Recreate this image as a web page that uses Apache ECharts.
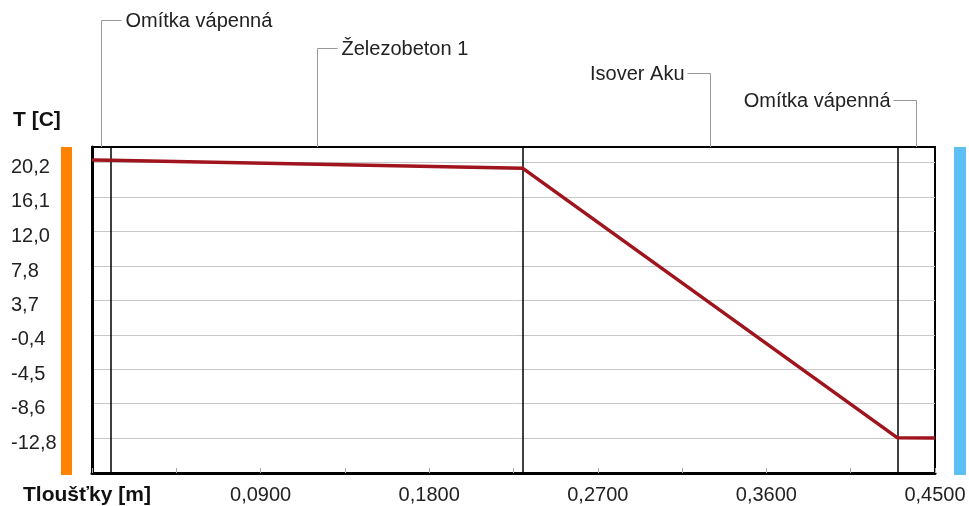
<!DOCTYPE html>
<html><head><meta charset="utf-8">
<script src="https://cdn.jsdelivr.net/npm/echarts@6/dist/echarts.min.js"></script>
<style>html,body{margin:0;padding:0;background:#fff}#c{width:969px;height:506px}</style>
</head><body><div id="c"></div>
<script>
// ---- data ----
const thickness = [0, 0.01, 0.23, 0.43, 0.45];
const temperature = [20.5, 20.46, 19.5, -12.7, -12.72];
const layerNames = ['Omítka vápenná', 'Železobeton 1', 'Isover Aku', 'Omítka vápenná'];
const layerBounds = [0, 0.01, 0.23, 0.43, 0.45];
const yTickValues = [20.2, 16.1, 12.0, 7.8, 3.7, -0.4, -4.5, -8.6, -12.8];
const xTickStep = 0.09;
const yAxisTitle = 'T [C]';
const xAxisTitle = 'Tloušťky [m]';

const FONT = "'Liberation Sans', Arial, sans-serif";
const chart = echarts.init(document.getElementById('c'), null, {renderer: 'canvas'});
const G = {left: 92, right: 34, top: 147, bottom: 33};

chart.setOption({
  animation: false,
  backgroundColor: '#fff',
  grid: {left: G.left, right: G.right, top: G.top, bottom: G.bottom, show: true, borderColor: '#000', borderWidth: 2, backgroundColor: 'transparent'},
  xAxis: {
    type: 'value', min: 0, max: 0.45, interval: xTickStep,
    axisLine: {show: true, onZero: false, lineStyle: {color: '#000', width: 3}},
    axisTick: {show: true, inside: true, length: 5, lineStyle: {color: '#aaa'}},
    minorTick: {show: true, splitNumber: 2, length: 5, lineStyle: {color: '#aaa'}},
    splitLine: {show: false},
    axisLabel: {show: true, showMinLabel: false, margin: 12, color: '#222', fontFamily: FONT, fontSize: 20,
      formatter: v => v.toFixed(4).replace('.', ',')}
  },
  yAxis: {
    type: 'value', min: -16.9, max: 22.05,
    axisLine: {show: true, lineStyle: {color: '#000', width: 3}},
    axisTick: {show: false, customValues: yTickValues},
    splitLine: {show: true, lineStyle: {color: '#c8c8c8', width: 1}},
    axisLabel: {show: true, customValues: yTickValues, align: 'left', verticalAlign: 'top', lineHeight: 10, margin: 81,
      color: '#222', fontFamily: FONT, fontSize: 20,
      formatter: v => v.toFixed(1).replace('.', ',')}
  },
  series: [{
    type: 'line',
    data: thickness.map((x, i) => [x, temperature[i]]),
    symbol: 'none',
    lineStyle: {color: '#a0141e', width: 3.5},
    z: 5,
    markLine: {
      silent: true, symbol: 'none', label: {show: false},
      lineStyle: {color: '#000', width: 1.5, type: 'solid'},
      data: layerBounds.slice(1, -1).map(b => ({xAxis: b}))
    }
  }]
});

// decorations: leader lines with layer names, titles, side bars
const gridTop = G.top;
const leaderY = [20, 48, 73, 100];
const graphics = [];
for (let i = 0; i < layerNames.length; i++) {
  const mid = (layerBounds[i] + layerBounds[i + 1]) / 2;
  const px = Math.round(chart.convertToPixel({xAxisIndex: 0}, mid)) + 0.5;
  const ly = leaderY[i] + 0.5;
  const toRight = i < 2;
  graphics.push({type: 'line', shape: {x1: px, y1: gridTop, x2: px, y2: ly}, style: {stroke: '#999', lineWidth: 1}});
  if (toRight) {
    graphics.push({type: 'line', shape: {x1: px, y1: ly, x2: px + 20, y2: ly}, style: {stroke: '#999', lineWidth: 1}});
    graphics.push({type: 'text', x: px + 24, y: ly + 1, style: {text: layerNames[i], font: '20px ' + FONT, fill: '#222', verticalAlign: 'middle', align: 'left'}});
  } else {
    graphics.push({type: 'line', shape: {x1: px - 23, y1: ly, x2: px, y2: ly}, style: {stroke: '#999', lineWidth: 1}});
    graphics.push({type: 'text', x: px - 26, y: ly + 1, style: {text: layerNames[i], font: '20px ' + FONT, fill: '#222', verticalAlign: 'middle', align: 'right'}});
  }
}
graphics.push({type: 'text', x: 13, y: 120, style: {text: yAxisTitle, font: 'bold 21px ' + FONT, fill: '#111', verticalAlign: 'middle'}});
graphics.push({type: 'text', x: 23, y: 495, style: {text: xAxisTitle, font: 'bold 21px ' + FONT, fill: '#111', verticalAlign: 'middle'}});
graphics.push({type: 'rect', shape: {x: 61, y: 147, width: 11, height: 328}, style: {fill: '#ff8200'}});
graphics.push({type: 'rect', shape: {x: 954, y: 147, width: 12, height: 328}, style: {fill: '#5cc0f5'}});
chart.setOption({graphic: graphics});
</script></body></html>
